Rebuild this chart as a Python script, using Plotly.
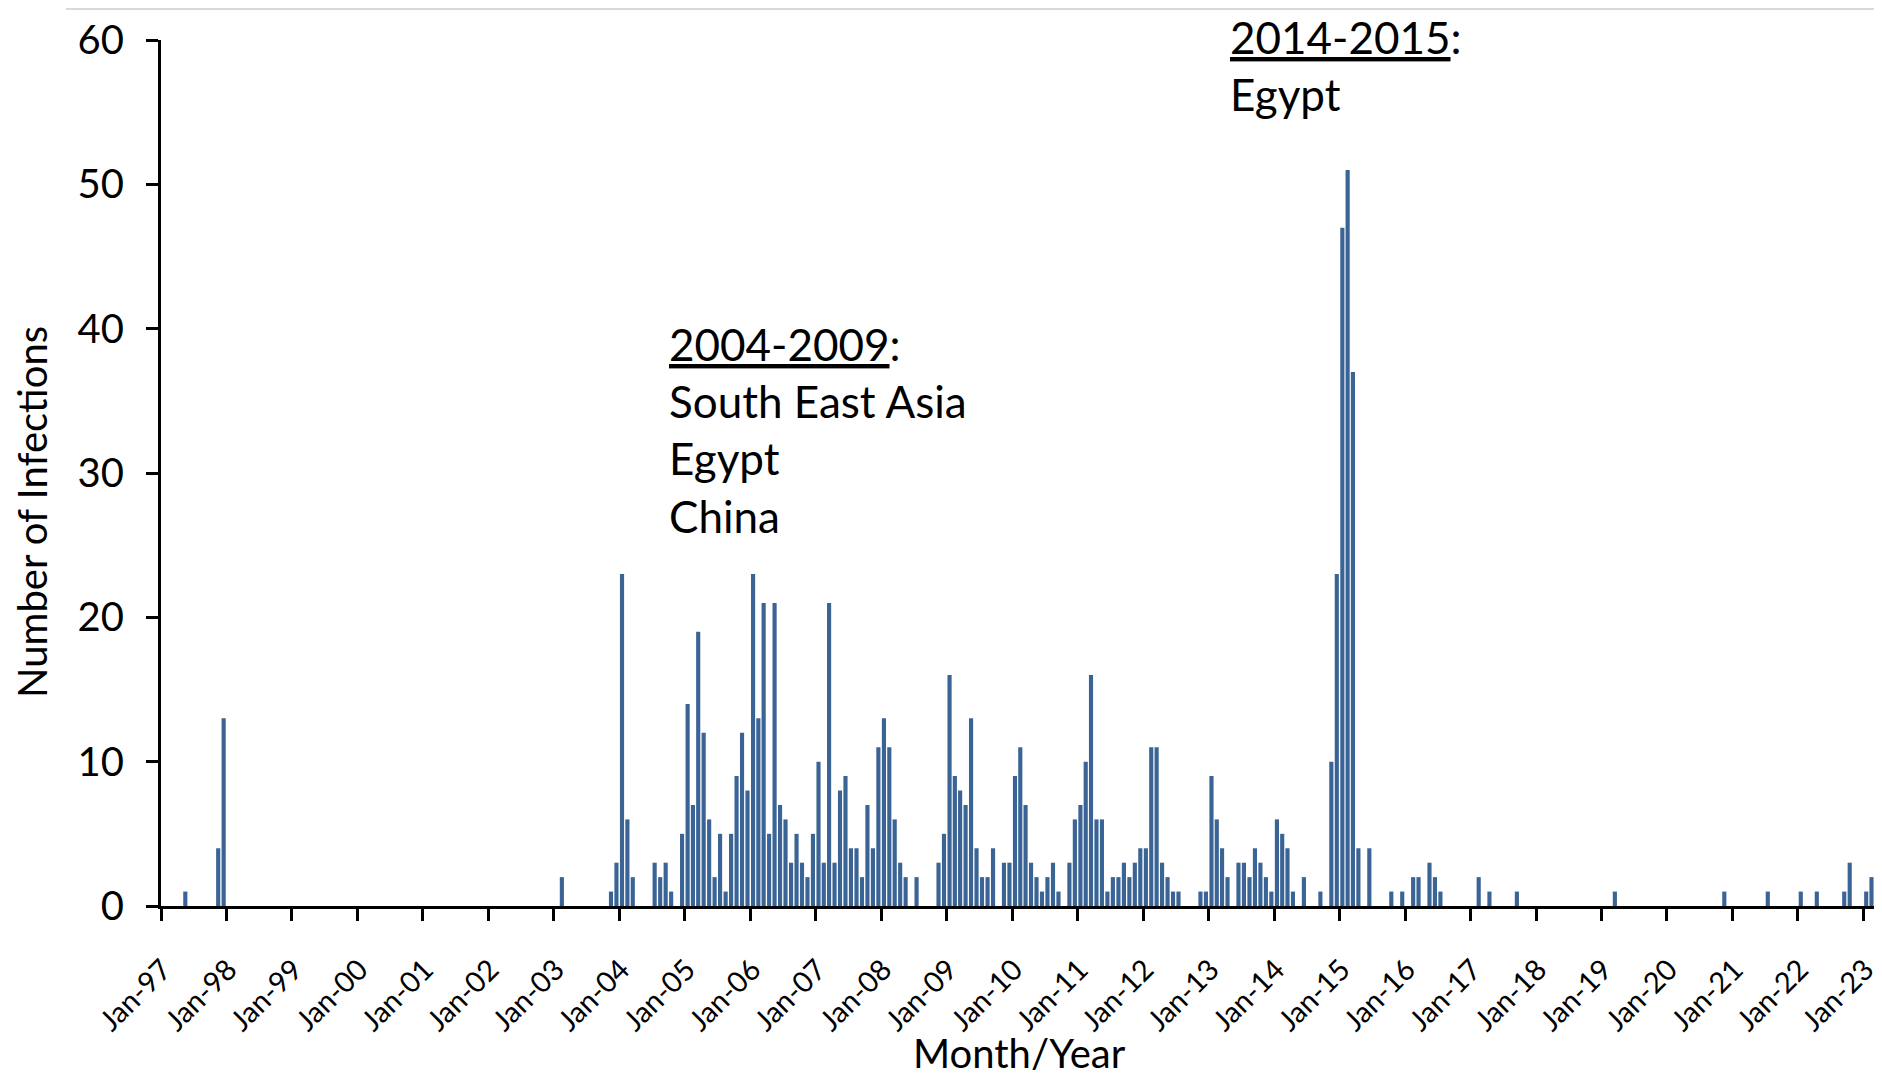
import plotly.graph_objects as go

# Monthly human infections (only non-zero months listed)
months = [
    "1997-05", "1997-11", "1997-12",
    "2003-02", "2003-11", "2003-12",
    "2004-01", "2004-02", "2004-03", "2004-07", "2004-08", "2004-09", "2004-10", "2004-12",
    "2005-01", "2005-02", "2005-03", "2005-04", "2005-05", "2005-06", "2005-07", "2005-08",
    "2005-09", "2005-10", "2005-11", "2005-12",
    "2006-01", "2006-02", "2006-03", "2006-04", "2006-05", "2006-06", "2006-07", "2006-08",
    "2006-09", "2006-10", "2006-11", "2006-12",
    "2007-01", "2007-02", "2007-03", "2007-04", "2007-05", "2007-06", "2007-07", "2007-08",
    "2007-09", "2007-10", "2007-11", "2007-12",
    "2008-01", "2008-02", "2008-03", "2008-04", "2008-05", "2008-07", "2008-11", "2008-12",
    "2009-01", "2009-02", "2009-03", "2009-04", "2009-05", "2009-06", "2009-07", "2009-08",
    "2009-09", "2009-11", "2009-12",
    "2010-01", "2010-02", "2010-03", "2010-04", "2010-05", "2010-06", "2010-07", "2010-08",
    "2010-09", "2010-11", "2010-12",
    "2011-01", "2011-02", "2011-03", "2011-04", "2011-05", "2011-06", "2011-07", "2011-08",
    "2011-09", "2011-10", "2011-11", "2011-12",
    "2012-01", "2012-02", "2012-03", "2012-04", "2012-05", "2012-06", "2012-07", "2012-11",
    "2012-12",
    "2013-01", "2013-02", "2013-03", "2013-04", "2013-06", "2013-07", "2013-08", "2013-09",
    "2013-10", "2013-11", "2013-12",
    "2014-01", "2014-02", "2014-03", "2014-04", "2014-06", "2014-09", "2014-11", "2014-12",
    "2015-01", "2015-02", "2015-03", "2015-04", "2015-06", "2015-10", "2015-12",
    "2016-02", "2016-03", "2016-05", "2016-06", "2016-07",
    "2017-02", "2017-04", "2017-09",
    "2019-03", "2020-11", "2021-07",
    "2022-01", "2022-04", "2022-09", "2022-10",
    "2023-01", "2023-02",
]
infections = [
    1, 4, 13,
    2, 1, 3,
    23, 6, 2, 3, 2, 3, 1, 5,
    14, 7, 19, 12, 6, 2, 5, 1,
    5, 9, 12, 8,
    23, 13, 21, 5, 21, 7, 6, 3,
    5, 3, 2, 5,
    10, 3, 21, 3, 8, 9, 4, 4,
    2, 7, 4, 11,
    13, 11, 6, 3, 2, 2, 3, 5,
    16, 9, 8, 7, 13, 4, 2, 2,
    4, 3, 3,
    9, 11, 7, 3, 2, 1, 2, 3,
    1, 3, 6,
    7, 10, 16, 6, 6, 1, 2, 2,
    3, 2, 3, 4,
    4, 11, 11, 3, 2, 1, 1, 1,
    1,
    9, 6, 4, 2, 3, 3, 2, 4,
    3, 2, 1,
    6, 5, 4, 1, 2, 1, 10, 23,
    47, 51, 37, 4, 4, 1, 1,
    2, 2, 3, 2, 1,
    2, 1, 1,
    1, 1, 1,
    1, 1, 1, 3,
    1, 2,
]

x_title = "Month/Year"
y_title = "Number of Infections"
note1 = "<u>2004-2009</u>:<br>South East Asia<br>Egypt<br>China"
note2 = "<u>2014-2015</u>:<br>Egypt"

FONT = "Lato"
BAR = "#3B6496"
MONTH_MS = 30.44 * 86400000

fig = go.Figure(
    go.Bar(
        x=months,
        y=infections,
        xperiod="M1",
        xperiodalignment="middle",
        width=0.76 * MONTH_MS,
        marker=dict(color=BAR, line=dict(width=0)),
        hoverinfo="x+y",
    )
)

# The page has an 8px body margin, so work in page pixels and shift by OFF
OFF = 8
W, H = 1882 - OFF, 1076 - OFF
PL, PR, PT, PB = 161, 1874, 40, 906  # plot area in page pixels
L, T = PL - OFF, PT - OFF
R = W - (PR - OFF)
B = H - (PB - OFF)
pw, ph = PR - PL, PB - PT


def px_x(x):
    return (x - PL) / pw


def px_y(y):
    return (PB - y) / ph


fig.update_layout(
    width=W,
    height=H,
    margin=dict(l=L, r=R, t=T, b=B, pad=0, autoexpand=False),
    paper_bgcolor="white",
    plot_bgcolor="white",
    font=dict(family=FONT, color="black"),
    showlegend=False,
    xaxis=dict(
        type="date",
        range=["1997-01-01", "2023-03-01"],
        tick0="1997-01-01",
        dtick="M12",
        tickformat="%b-%y",
        tickangle=-45,
        ticks="outside",
        ticklen=12,
        tickwidth=3,
        tickcolor="black",
        tickfont=dict(size=29, family=FONT, color="black"),
        ticklabelstandoff=20,
        ticklabelshift=2,
        ticklabeloverflow="allow",
        automargin=False,
        showline=True,
        linewidth=3,
        linecolor="black",
        showgrid=False,
        zeroline=False,
    ),
    yaxis=dict(
        range=[0, 60],
        dtick=10,
        ticks="outside",
        ticklen=12,
        tickwidth=3,
        tickcolor="black",
        tickfont=dict(size=40, family=FONT, color="black"),
        ticklabelstandoff=14,
        automargin=False,
        showline=True,
        linewidth=3,
        linecolor="black",
        showgrid=False,
        zeroline=False,
    ),
    shapes=[
        dict(
            type="line", xref="paper", yref="paper",
            x0=px_x(66), x1=px_x(1882), y0=px_y(OFF + 1), y1=px_y(OFF + 1),
            line=dict(color="#D9D9D9", width=2),
        )
    ],
    annotations=[
        dict(
            text=y_title, xref="paper", yref="paper",
            x=px_x(32), y=px_y(512), textangle=-90,
            xanchor="center", yanchor="middle", showarrow=False,
            font=dict(size=40, family=FONT, color="black"),
        ),
        dict(
            text=x_title, xref="paper", yref="paper",
            x=px_x(1019), y=px_y(1053),
            xanchor="center", yanchor="middle", showarrow=False,
            font=dict(size=40, family=FONT, color="black"),
        ),
        dict(
            text=note1, xref="paper", yref="paper",
            x=px_x(667), y=px_y(316), align="left",
            xanchor="left", yanchor="top", showarrow=False,
            font=dict(size=44, family=FONT, color="black"),
        ),
        dict(
            text=note2, xref="paper", yref="paper",
            x=px_x(1228), y=px_y(OFF + 1), align="left",
            xanchor="left", yanchor="top", showarrow=False,
            font=dict(size=44, family=FONT, color="black"),
        ),
    ],
)

fig.write_html("out.html")
